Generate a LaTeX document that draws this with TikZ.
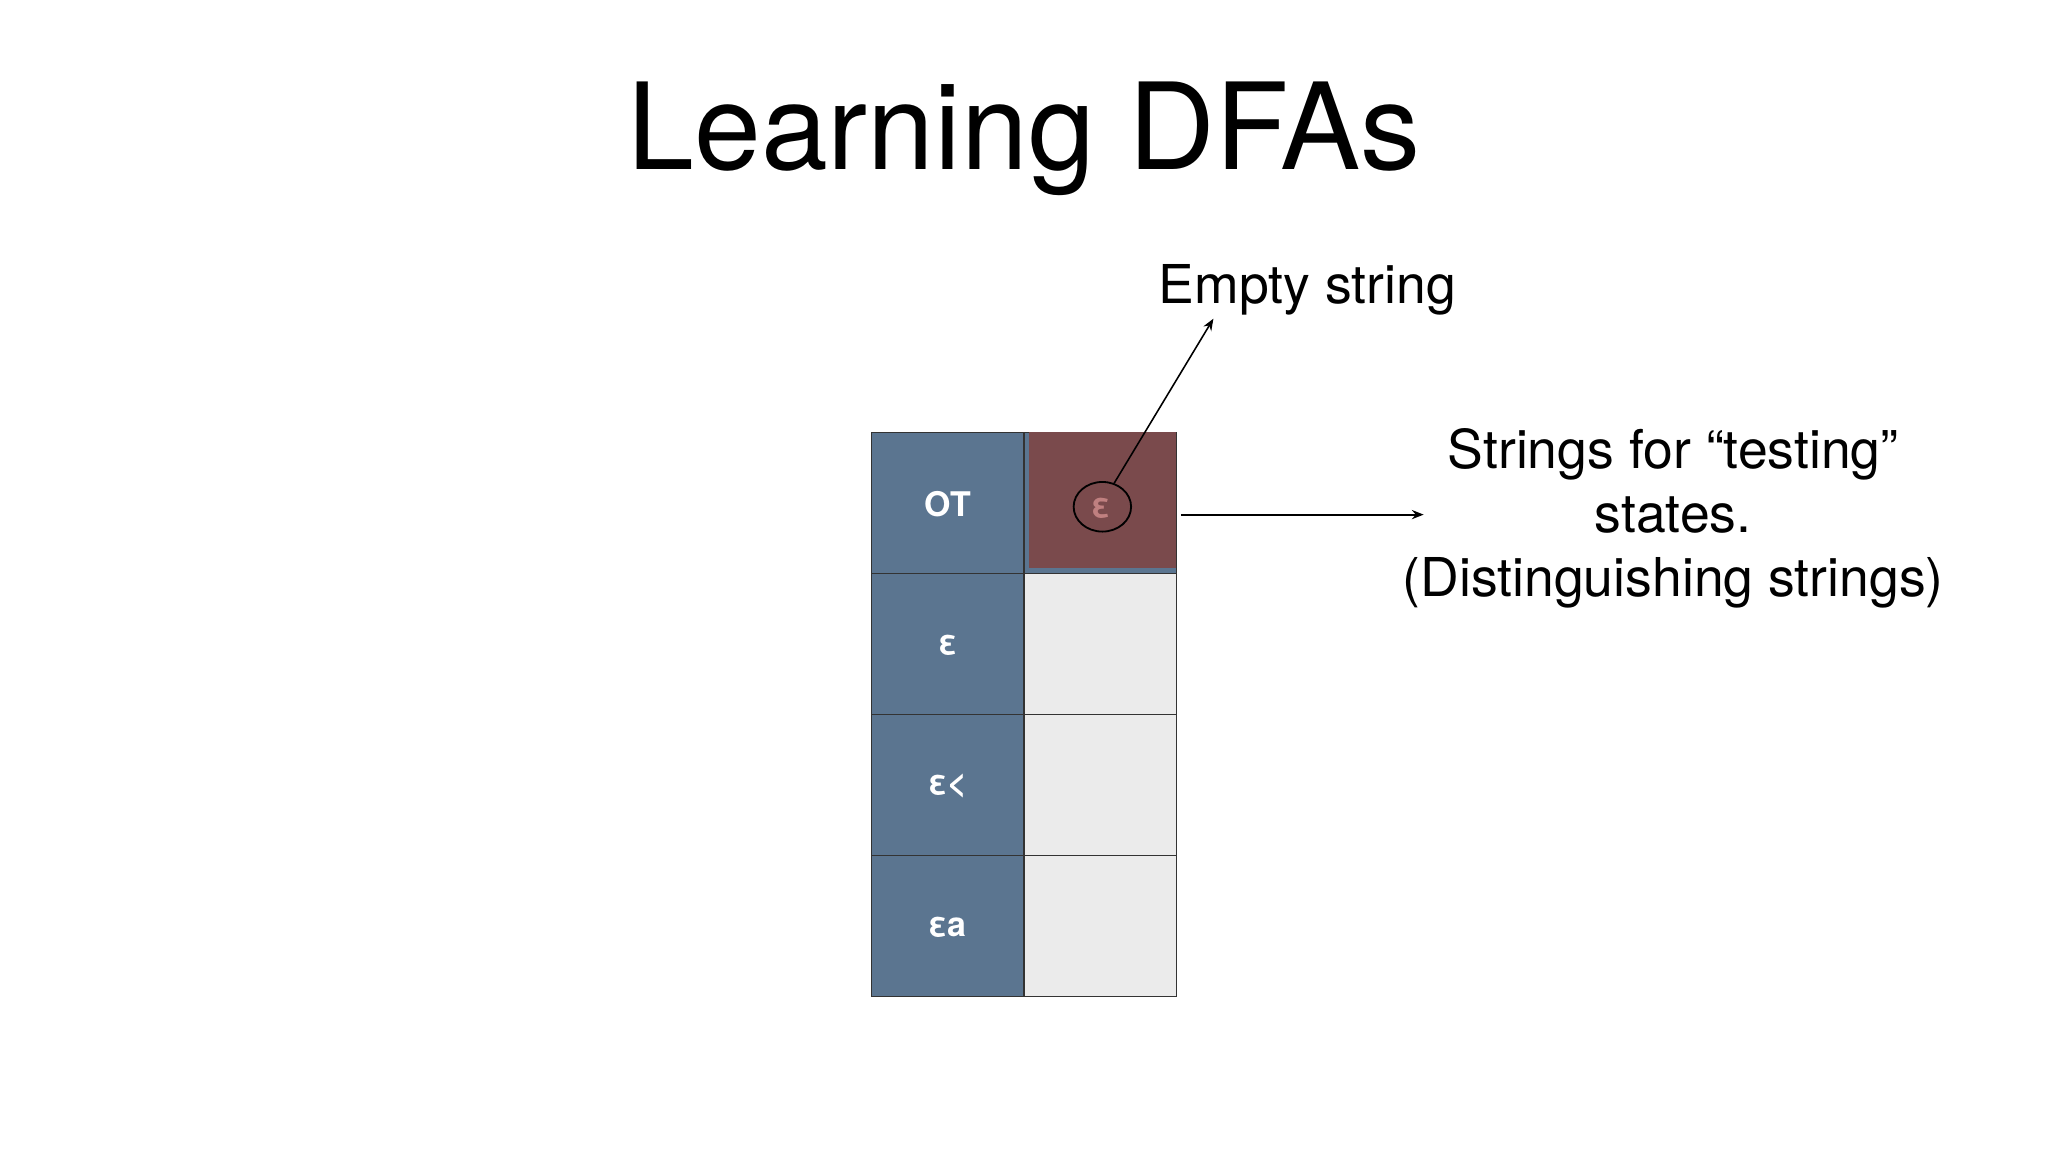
\documentclass[tikz,border=0pt]{standalone}
\usepackage{fontspec}
\setmainfont{TeX Gyre Heros}
\usetikzlibrary{arrows.meta}
\definecolor{bluec}{HTML}{5B7590}
\definecolor{redc}{HTML}{7A4A4C}
\definecolor{grayc}{HTML}{EBEBEB}
\definecolor{epsc}{HTML}{C08080}
\begin{document}
\begin{tikzpicture}[x=1pt,y=-1pt,
  hcell/.style={draw=black!80,line width=0.8pt,fill=bluec},
  gcell/.style={draw=black!80,line width=0.8pt,fill=grayc},
  hlab/.style={text=white,font=\bfseries\fontsize{26}{30}\selectfont},
  body/.style={font=\fontsize{41}{49}\selectfont,align=center},
  arr/.style={-{Stealth[length=9pt,width=7pt]},line width=1.6pt}]
\useasboundingbox (0,0) rectangle (1568,882);
\node[font=\fontsize{92}{110}\selectfont] (title) at (784,106) {Learning DFAs};
% table
\foreach \i/\t in {0/OT,1/ε,2/ε<,3/εa}{
  \draw[hcell] (667,331+108*\i) rectangle (784,439+108*\i);
  \node[hlab] (h\i) at (725.5,386+108*\i) {\t};
}
\foreach \i in {1,2,3}{\draw[gcell] (784,331+108*\i) rectangle (901,439+108*\i);}
\draw[hcell] (784,331) rectangle (901,439);
\fill[redc] (788,331) rectangle (900,435);
\node[text=epsc,font=\bfseries\fontsize{26}{30}\selectfont] (eps) at (843,389) {ε};
\draw[line width=1.4pt] (844,388) ellipse (22 and 19);
\coordinate (etop) at (853,370);
\coordinate (cellR) at (904,394);
\node[body] (empty) at (1001,222) {Empty string};
\node[body] (test) at (1281,397) {Strings for “testing”\\states.\\(Distinguishing strings)};
\draw[arr,line width=1.2pt] (etop) -- (929,244);
\draw[arr] (cellR) -- (1090,394);
\end{tikzpicture}
\end{document}
